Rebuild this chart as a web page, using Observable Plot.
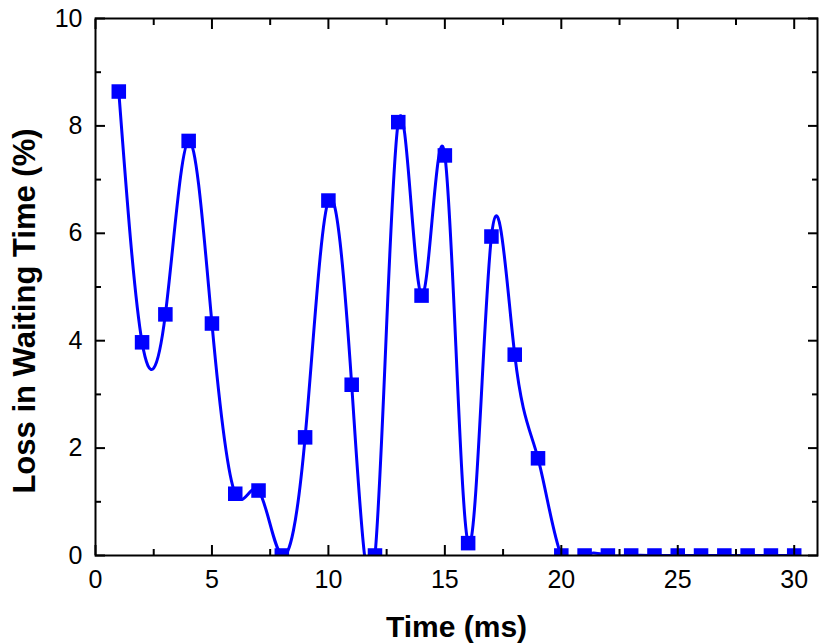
<!DOCTYPE html>
<html><head><meta charset="utf-8">
<script src="https://cdn.jsdelivr.net/npm/d3@7"></script>
<script src="https://cdn.jsdelivr.net/npm/@observablehq/plot@0.6"></script>
<style>body{margin:0;background:#fff}</style>
</head><body><div id="chart"></div>
<script>
const time = [1,2,3,4,5,6,7,8,9,10,11,12,13,14,15,16,17,18,19,20,21,22,23,24,25,26,27,28,29,30];
const loss = [8.64,3.97,4.49,7.72,4.32,1.15,1.21,0,2.2,6.61,3.18,0,8.07,4.84,7.45,0.23,5.94,3.74,1.81,0,0,0,0,0,0,0,0,0,0,0];
const xTicks = [0,5,10,15,20,25,30];
const xMinorTicks = [2.5,7.5,12.5,17.5,22.5,27.5];
const yTicks = [0,2,4,6,8,10];
const yMinorTicks = [1,3,5,7,9];
const xLabel = "Time (ms)";
const yLabel = "Loss in Waiting Time (%)";

const data = time.map((t, i) => ({t, v: loss[i]}));
const blue = "#0000ff";

function tickAxes(ticks, size) {
  return [
    Plot.axisX(ticks, {anchor: "bottom", tickSize: size, dy: -size, fill: null, strokeWidth: 2, label: null}),
    Plot.axisX(ticks, {anchor: "top", tickSize: size, dy: size, fill: null, strokeWidth: 2, label: null})
  ];
}
function tickAxesY(ticks, size) {
  return [
    Plot.axisY(ticks, {anchor: "left", tickSize: size, dx: size, fill: null, strokeWidth: 2, label: null}),
    Plot.axisY(ticks, {anchor: "right", tickSize: size, dx: -size, fill: null, strokeWidth: 2, label: null})
  ];
}

const chart = Plot.plot({
  width: 827,
  height: 643,
  marginLeft: 95,
  marginRight: 10,
  marginTop: 18,
  marginBottom: 88,
  style: {fontFamily: "'Liberation Sans', Arial, sans-serif", fontSize: "24px", background: "#fff", color: "#000"},
  x: {domain: [0, 31]},
  y: {domain: [0, 10]},
  marks: [
    Plot.line(data, {x: "t", y: "v", curve: "natural", stroke: blue, strokeWidth: 3, clip: true}),
    Plot.dot(data, {x: "t", y: "v", symbol: "square", r: 8.2, fill: blue, stroke: null, clip: true}),
    ...tickAxes(xTicks, 10),
    ...tickAxes(xMinorTicks, 6),
    ...tickAxesY(yTicks, 10),
    ...tickAxesY(yMinorTicks, 6),
    Plot.axisX(xTicks, {anchor: "bottom", tickSize: 0, tickPadding: 15, fontSize: 25, label: null, tickFormat: d => String(d)}),
    Plot.axisY(yTicks, {anchor: "left", tickSize: 0, tickPadding: 13, fontSize: 25, label: null, tickFormat: d => String(d)}),
    Plot.text([xLabel], {frameAnchor: "bottom", dy: 72, fontSize: 30, fontWeight: "bold", lineAnchor: "middle", textAnchor: "middle"}),
    Plot.text([yLabel], {frameAnchor: "left", dx: -70, dy: 24, rotate: -90, fontSize: 31, fontWeight: "bold", lineAnchor: "middle", textAnchor: "middle"}),
    Plot.frame({stroke: "#000", strokeWidth: 2})
  ]
});
document.getElementById("chart").appendChild(chart);
</script>
</body></html>
